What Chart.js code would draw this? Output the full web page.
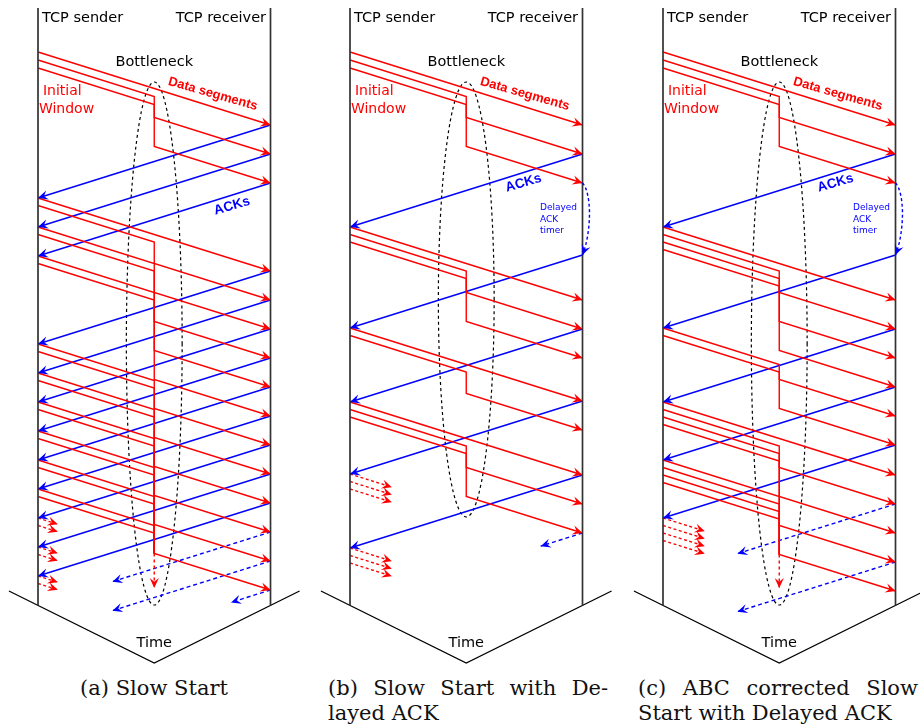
<!DOCTYPE html>
<html>
<head>
<meta charset="utf-8">
<script src="https://cdn.jsdelivr.net/npm/chart.js@4.4.1/dist/chart.umd.min.js"></script>
<style>
body { margin: 0; background: #fff; }
#fig { position: relative; width: 920px; height: 728px; overflow: hidden; background: #fff; }
#fig canvas { position: absolute; top: 0; }
.cap { position: absolute; top: 676px; width: 280px; font-family: "DejaVu Serif", serif; font-size: 21px; line-height: 24.5px; color: #111; }
.just { text-align: justify; text-align-last: justify; }
</style>
</head>
<body>
<div id="fig">
  <canvas id="panelA" width="312" height="670" style="left:0px"></canvas>
  <canvas id="panelB" width="312" height="670" style="left:312px"></canvas>
  <canvas id="panelC" width="312" height="670" style="left:625px"></canvas>
  <div class="cap" style="left:14px;text-align:center">(a) Slow Start</div>
  <div class="cap" style="left:328px"><div class="just">(b) Slow Start with De-</div><div>layed ACK</div></div>
  <div class="cap" style="left:638px"><div class="just">(c) ABC corrected Slow</div><div>Start with Delayed ACK</div></div>
</div>
<script>
// times (same time unit in all panels, grows downwards)
// x: 0 = TCP sender, 0.5 = bottleneck, 1 = TCP receiver
var halfTrip = 36.5;   // sender -> bottleneck, and bottleneck -> receiver

// (a) Slow Start
var sendA = [52, 60, 68, 198, 205.5, 227, 234.5, 256, 263.5, 344, 351.5, 373, 380.5, 402, 409.5, 431, 438.5, 460, 467.5, 489, 496.5];
var departA = [88.5, 117.5, 146.5, 234.5, 263.5, 292.5, 321.5, 350.5, 379.5, 408.5, 437.5, 466.5, 495.5, 524.5, 553.5, null, null, null, null, null, null];
var ackA = [125, 154, 183, 271, 300, 329, 358, 387, 416, 445, 474, 503];
var ackCutA = [532, 561, 590];
var ackCutEndA = [0.32, 0.32, 0.83];
var nextSendA = [518, 525.5, 547, 554.5, 576, 583.5];
var queueTailA = [553.5, 588];
var delayedA = [];
var ovalA = [82, 605];

// (b) Slow Start with Delayed ACK
var sendB = [52, 60, 68, 227, 234.5, 242, 328, 335.5, 402, 409.5, 417];
var departB = [88.5, 117.5, 146.5, 263.5, 292.5, 321.5, 364.5, 393.5, 438.5, 467.5, 496.5];
var ackB = [154, 255, 329, 401, 475];
var ackCutB = [533];
var ackCutEndB = [0.82];
var nextSendB = [474, 481.5, 489, 548, 555.5, 563];
var queueTailB = null;
var delayedB = [[183, 255]];
var ovalB = [82, 517];

// (c) ABC corrected Slow Start with Delayed ACK
var sendC = [52, 60, 68, 227, 234.5, 242, 249.5, 328, 335.5, 402, 409.5, 417, 424.5, 460, 467.5, 475, 482.5];
var departC = [88.5, 117.5, 146.5, 263.5, 292.5, 321.5, 350.5, 379.5, 408.5, 438.5, 467.5, 496.5, 525.5, 554.5, null, null, null];
var ackC = [154, 255, 329, 387, 445];
var ackCutC = [504, 562];
var ackCutEndC = [0.32, 0.32];
var nextSendC = [518, 525.5, 533, 540.5];
var queueTailC = [554.5, 588];
var delayedC = [[183, 255]];
var ovalC = [82, 605];

var RED = '#ff0000', BLUE = '#0000ff';

function seg(points, color, extra) {
    var ds = {
        data: points, borderColor: color, borderWidth: 1.4, pointRadius: 0,
        showLine: true, fill: false, tension: 0, clip: false
    };
    for (var k in extra) ds[k] = extra[k];
    return ds;
}

function buildDatasets(p) {
    var out = [];
    // lifelines and the time "axis"
    out.push(seg([{x: 0, y: 8}, {x: 0, y: 605.5}], '#333', {borderWidth: 1.7}));
    out.push(seg([{x: 1, y: 8}, {x: 1, y: 605.5}], '#333', {borderWidth: 1.7}));
    out.push(seg([{x: -0.125, y: 591}, {x: 0.5, y: 663}, {x: 1.125, y: 591}], '#000', {borderWidth: 1.3}));

    // data segments: sender -> bottleneck -> (queue) -> receiver
    p.send.forEach(function (s, i) {
        var d = p.depart[i];
        if (d === null) {
            out.push(seg([{x: 0, y: s}, {x: 0.5, y: s + halfTrip}, {x: 0.5, y: p.queueTail[0]}], RED));
        } else {
            out.push(seg([{x: 0, y: s}, {x: 0.5, y: s + halfTrip}, {x: 0.5, y: d}, {x: 1, y: d + halfTrip}], RED, {arrow: true}));
        }
    });
    if (p.queueTail) {
        out.push(seg([{x: 0.5, y: p.queueTail[0]}, {x: 0.5, y: p.queueTail[1]}], RED, {arrow: true, borderDash: [3, 3]}));
    }
    // ACKs
    p.ack.forEach(function (t) {
        out.push(seg([{x: 1, y: t}, {x: 0, y: t + 2 * halfTrip}], BLUE, {arrow: true}));
    });
    p.ackCut.forEach(function (t, i) {
        var e = p.ackCutEnd[i];
        out.push(seg([{x: 1, y: t}, {x: e, y: t + (1 - e) * 2 * halfTrip}], BLUE, {arrow: true, borderDash: [4, 3]}));
    });
    // segments about to be sent
    p.nextSend.forEach(function (t) {
        out.push(seg([{x: 0, y: t}, {x: p.nextLen, y: t + p.nextLen * 2 * halfTrip}], RED, {arrow: true, borderDash: [3, 2.5]}));
    });
    return out;
}

function drawHead(ctx, x0, y0, x1, y1, color) {
    var ang = Math.atan2(y1 - y0, x1 - x0);
    var L = 10, W = 4.6;
    ctx.save();
    ctx.translate(x1, y1);
    ctx.rotate(ang);
    ctx.beginPath();
    ctx.moveTo(0, 0);
    ctx.lineTo(-L, -W);
    ctx.lineTo(-0.62 * L, 0);
    ctx.lineTo(-L, W);
    ctx.closePath();
    ctx.fillStyle = color;
    ctx.fill();
    ctx.restore();
}

var arrowPlugin = {
    id: 'arrows',
    afterDatasetsDraw: function (chart) {
        var ctx = chart.ctx;
        chart.data.datasets.forEach(function (ds, i) {
            if (!ds.arrow) return;
            var pts = chart.getDatasetMeta(i).data;
            var a = pts[pts.length - 2], b = pts[pts.length - 1];
            drawHead(ctx, a.x, a.y, b.x, b.y, ds.borderColor);
        });
    }
};

function makeDeco(p) {
    return {
        id: 'deco',
        beforeDatasetsDraw: function (chart) {
            var ctx = chart.ctx, xs = chart.scales.x, ys = chart.scales.y;
            var cx = xs.getPixelForValue(0.5);
            var top = ys.getPixelForValue(p.oval[0]), bot = ys.getPixelForValue(p.oval[1]);
            ctx.save();
            ctx.strokeStyle = '#000';
            ctx.lineWidth = 1.2;
            ctx.setLineDash([3, 3]);
            ctx.beginPath();
            ctx.ellipse(cx, (top + bot) / 2, xs.getPixelForValue(0.62) - cx, (bot - top) / 2, 0, 0, Math.PI * 2);
            ctx.stroke();
            ctx.restore();
        },
        afterDatasetsDraw: function (chart) {
            var ctx = chart.ctx, xs = chart.scales.x, ys = chart.scales.y;
            var X = function (v) { return xs.getPixelForValue(v); };
            var Y = function (v) { return ys.getPixelForValue(v); };
            // delayed ACK timer
            p.delayed.forEach(function (d) {
                var x0 = X(1), y0 = Y(d[0]), y1 = Y(d[1]);
                var cxp = X(1.04), c1y = Y(d[0] + 10), c2y = Y(d[1] - 24);
                ctx.save();
                ctx.strokeStyle = BLUE;
                ctx.lineWidth = 1.4;
                ctx.setLineDash([3, 2.5]);
                ctx.beginPath();
                ctx.moveTo(x0, y0);
                ctx.bezierCurveTo(cxp, c1y, cxp, c2y, x0, y1);
                ctx.stroke();
                ctx.restore();
                drawHead(ctx, cxp, c2y, x0, y1, BLUE);
            });
            // texts
            p.labels.forEach(function (l) {
                ctx.save();
                ctx.translate(X(l.x), Y(l.y));
                if (l.rot) ctx.rotate(l.rot * Math.PI / 180);
                ctx.font = l.font || '14.5px "DejaVu Sans"';
                ctx.fillStyle = l.color || '#000';
                ctx.textAlign = l.align || 'center';
                ctx.textBaseline = 'middle';
                ctx.fillText(l.text, 0, 0);
                ctx.restore();
            });
        }
    };
}

function commonLabels(ackX, ackY) {
    return [
        {text: 'TCP sender', x: 0.017, y: 18, align: 'left'},
        {text: 'TCP receiver', x: 0.981, y: 18, align: 'right'},
        {text: 'Bottleneck', x: 0.5, y: 62},
        {text: 'Initial', x: 0.021, y: 91, align: 'left', color: RED, font: '14px "DejaVu Sans"'},
        {text: 'Window', x: 0.004, y: 109, align: 'left', color: RED, font: '14px "DejaVu Sans"'},
        {text: 'Data segments', x: 0.752, y: 94, rot: 16, color: RED, font: 'bold 13px "Liberation Sans"'},
        {text: 'ACKs', x: ackX, y: ackY, rot: -16, color: BLUE, font: 'bold 13.5px "Liberation Sans"'},
        {text: 'Time', x: 0.5, y: 643}
    ];
}
var timerLabels = [
    {text: 'Delayed', x: 0.817, y: 208, align: 'left', color: BLUE, font: '9px "DejaVu Sans"'},
    {text: 'ACK', x: 0.817, y: 220, align: 'left', color: BLUE, font: '9px "DejaVu Sans"'},
    {text: 'timer', x: 0.817, y: 231, align: 'left', color: BLUE, font: '9px "DejaVu Sans"'}
];

function drawPanel(id, p) {
    var ctx = document.getElementById(id).getContext('2d');
    return new Chart(ctx, {
        type: 'scatter',
        data: {datasets: buildDatasets(p)},
        options: {
            responsive: false,
            animation: false,
            events: [],
            layout: {padding: 0, autoPadding: false},
            plugins: {legend: {display: false}, tooltip: {enabled: false}},
            scales: {
                x: {type: 'linear', display: false, min: -38 / 232.5, max: 274 / 232.5},
                y: {type: 'linear', display: false, min: 0, max: 670, reverse: true}
            }
        },
        plugins: [arrowPlugin, makeDeco(p)]
    });
}

drawPanel('panelA', {
    send: sendA, depart: departA, ack: ackA, ackCut: ackCutA, ackCutEnd: ackCutEndA,
    nextSend: nextSendA, nextLen: 0.085, queueTail: queueTailA, delayed: delayedA, oval: ovalA,
    labels: commonLabels(0.834, 206)
});
drawPanel('panelB', {
    send: sendB, depart: departB, ack: ackB, ackCut: ackCutB, ackCutEnd: ackCutEndB,
    nextSend: nextSendB, nextLen: 0.18, queueTail: queueTailB, delayed: delayedB, oval: ovalB,
    labels: commonLabels(0.746, 183).concat(timerLabels)
});
drawPanel('panelC', {
    send: sendC, depart: departC, ack: ackC, ackCut: ackCutC, ackCutEnd: ackCutEndC,
    nextSend: nextSendC, nextLen: 0.18, queueTail: queueTailC, delayed: delayedC, oval: ovalC,
    labels: commonLabels(0.742, 183).concat(timerLabels)
});
</script>
</body>
</html>
